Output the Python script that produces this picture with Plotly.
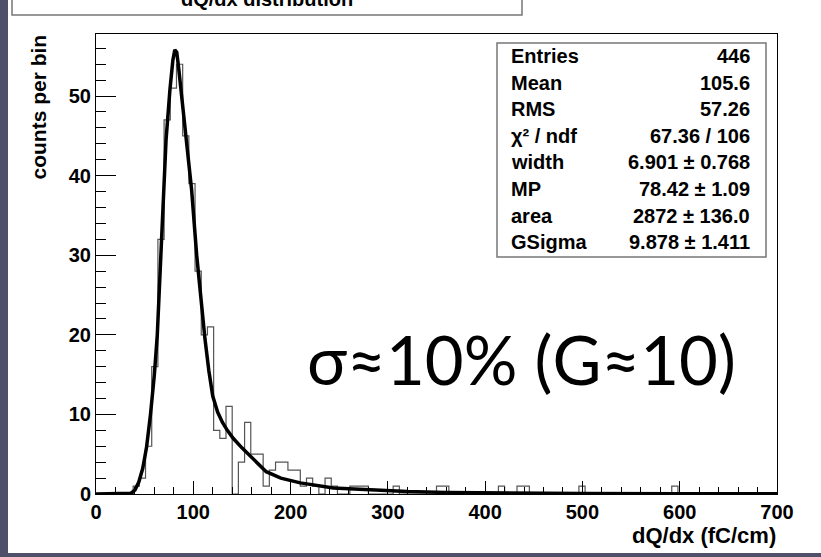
import numpy as np
import plotly.graph_objects as go

# ---------------- data ----------------
x_min, x_max, n_bins = 0, 700, 110
counts = [
    0, 0, 0, 0, 0, 0, 1, 2, 6, 16,
    32, 47, 51, 54, 45, 39, 28, 20, 21, 8,
    7, 11, 0, 4, 9, 5, 5, 1, 3, 4,
    4, 3, 3, 1, 2, 1, 0, 2, 1, 0,
    0, 1, 1, 1, 0, 0, 0, 0, 1, 0,
    0, 0, 0, 0, 0, 1, 1, 0, 0, 0,
    0, 0, 0, 0, 0, 1, 0, 0, 1, 1,
    0, 0, 0, 0, 0, 0, 0, 0, 1, 0,
    0, 0, 0, 0, 0, 0, 0, 0, 0, 0,
    0, 0, 0, 1, 0, 0, 0, 0, 0, 0,
    0, 0, 0, 0, 0, 0, 0, 0, 0, 0,
]

fit_x = [0, 30, 36, 40, 44, 48, 52, 56, 60, 63, 66, 69, 72, 76, 79, 81, 83, 85,
         87.4, 90, 93.2, 98.3, 103.5, 108, 112, 116, 120, 125, 130, 135, 141,
         150, 160, 175, 190, 210, 244, 280, 320, 360, 400, 450, 500, 600, 700]
fit_y = [0, 0, 0.1, 0.5, 1.5, 3.2, 5.9, 10, 15, 20, 28, 37, 44.5, 50.8, 54.5,
         55.8, 55.5, 53.5, 50.8, 47.5, 44.5, 38.2, 30, 24, 19.5, 15.5, 12.3,
         10.3, 9, 8, 7, 5.8, 4.6, 2.8, 2.0, 1.4, 0.75, 0.5, 0.3, 0.2, 0.14,
         0.1, 0.07, 0.04, 0.02]

x_ticks = [0, 100, 200, 300, 400, 500, 600, 700]
y_ticks = [0, 10, 20, 30, 40, 50]

title_text = "dQ/dx distribution"
x_title = "dQ/dx (fC/cm)"
y_title = "counts per bin"
stat_labels = ["Entries", "Mean", "RMS", "χ² / ndf", "width", "MP", "area", "GSigma"]
stat_values = ["446", "105.6", "57.26", "67.36 / 106", "6.901 ± 0.768",
               "78.42 ± 1.09", "2872 ± 136.0", "9.878 ± 1.411"]
note_text = "σ≈10% (G≈10)"

# ---------------- layout geometry (pixels) ----------------
W, H = 821, 557
L, R, T, B = 96, 777, 34, 494


def px_x(p):
    return (p - L) / (R - L)


def px_y(p):
    return (B - p) / (B - T)


FONT = "Liberation Sans, Arial, sans-serif"


def bfont(size):
    return dict(family=FONT, size=size, color="black", weight="bold")


edges = np.linspace(x_min, x_max, n_bins + 1)
hist_y = counts + [counts[-1]]

fig = go.Figure()
fig.add_trace(go.Scatter(x=edges, y=hist_y, mode="lines",
                         line=dict(shape="hv", color="#555555", width=1.2),
                         hoverinfo="skip", showlegend=False))
fig.add_trace(go.Scatter(x=fit_x, y=fit_y, mode="lines",
                         line=dict(color="black", width=3.5),
                         hoverinfo="skip", showlegend=False))

shapes = [
    # white canvas
    dict(type="rect", xref="paper", yref="paper", layer="below",
         x0=px_x(8), x1=px_x(830), y0=px_y(553), y1=px_y(-10),
         fillcolor="white", line=dict(width=0)),
    # title box
    dict(type="rect", xref="paper", yref="paper",
         x0=px_x(12), x1=px_x(522), y0=px_y(15), y1=px_y(-30),
         fillcolor="white", line=dict(color="#777", width=1.5)),
    # stats box
    dict(type="rect", xref="paper", yref="paper",
         x0=px_x(497), x1=px_x(766), y0=px_y(257), y1=px_y(43),
         fillcolor="white", line=dict(color="#777", width=1.5)),
]

annotations = [
    dict(text=title_text, xref="paper", yref="paper", x=px_x(267), y=px_y(-1),
         xanchor="center", yanchor="middle", showarrow=False, font=bfont(20)),
    dict(text=y_title, xref="paper", yref="paper", x=px_x(38), y=px_y(33),
         xanchor="center", yanchor="top", textangle=-90, showarrow=False,
         font=bfont(21)),
    dict(text=x_title, xref="paper", yref="paper", x=px_x(778), y=px_y(535),
         xanchor="right", yanchor="middle", showarrow=False, font=bfont(22)),
    dict(text=note_text, xref="paper", yref="paper", x=px_x(305), y=px_y(359),
         xanchor="left", yanchor="middle", showarrow=False,
         font=dict(family="Lato, Open Sans, sans-serif", size=67, color="black")),
]
for i, (lab, val) in enumerate(zip(stat_labels, stat_values)):
    yc = 56 + 26.6 * i
    annotations.append(dict(text=lab, xref="paper", yref="paper", x=px_x(509),
                            y=px_y(yc), xanchor="left", yanchor="middle",
                            showarrow=False, font=bfont(20)))
    annotations.append(dict(text=val, xref="paper", yref="paper", x=px_x(752),
                            y=px_y(yc), xanchor="right", yanchor="middle",
                            showarrow=False, font=bfont(20)))

axis_common = dict(showline=True, linecolor="black", linewidth=1, mirror=True,
                   ticks="inside", tickcolor="black", tickwidth=1,
                   showgrid=False, zeroline=False, tickfont=bfont(20),
                   tickmode="array")

fig.update_layout(
    width=W, height=H,
    margin=dict(l=L, r=W - R, t=T, b=H - B),
    paper_bgcolor="#4e5169",
    plot_bgcolor="white",
    showlegend=False,
    shapes=shapes,
    annotations=annotations,
    xaxis=dict(range=[x_min, x_max], tickvals=x_ticks, ticklen=13,
               minor=dict(dtick=20, tick0=0, ticklen=7, ticks="inside",
                          tickcolor="black"),
               **axis_common),
    yaxis=dict(range=[0, 57.8], tickvals=y_ticks, ticklen=20,
               minor=dict(dtick=2, tick0=0, ticklen=10, ticks="inside",
                          tickcolor="black"),
               **axis_common),
)

fig.write_html("out.html")
